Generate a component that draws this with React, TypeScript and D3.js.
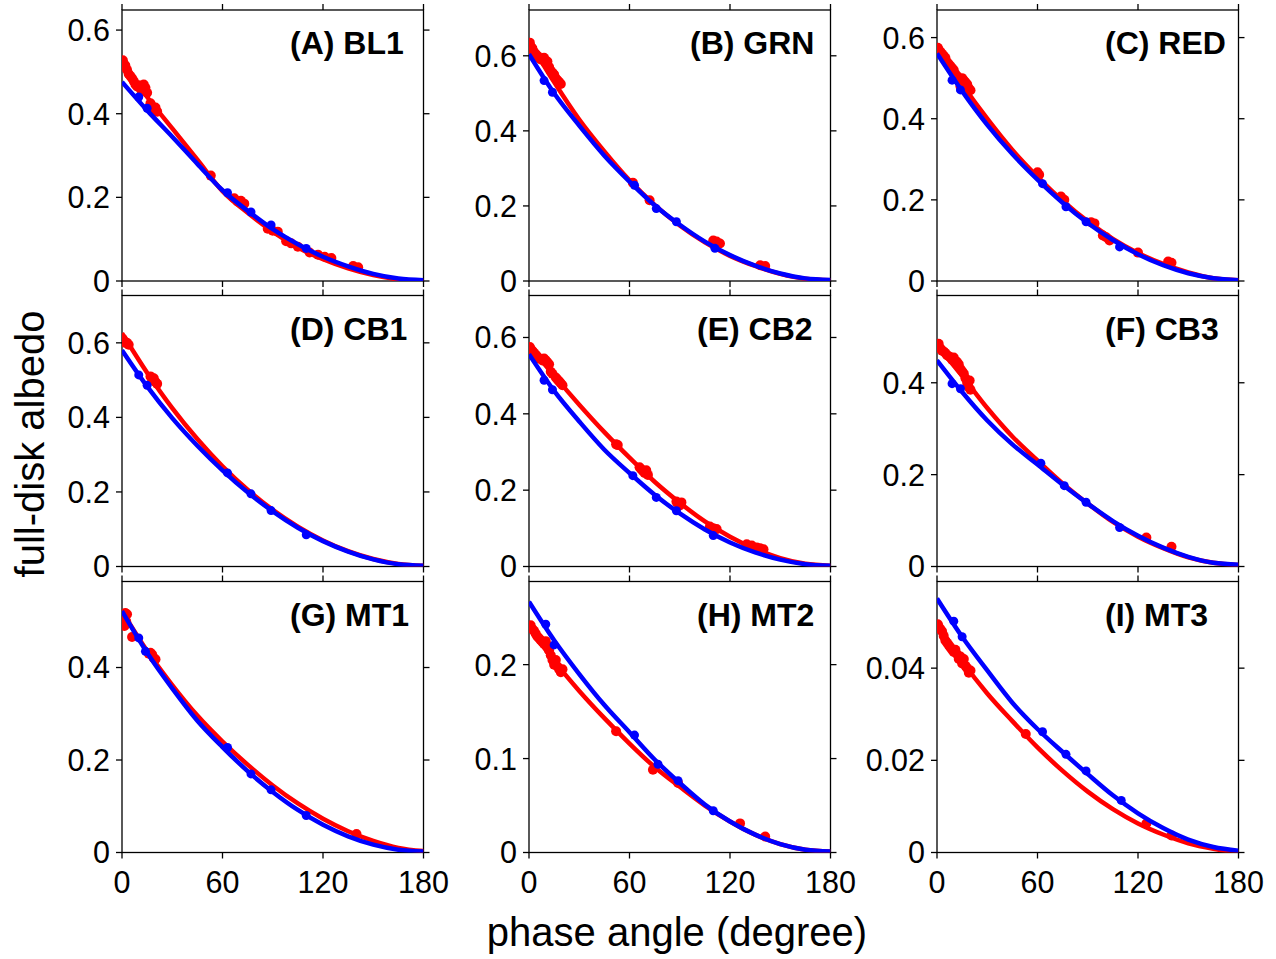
import React from "react";
import * as d3 from "d3";

// ---- data ----
const panelLabels = ["(A) BL1", "(B) GRN", "(C) RED", "(D) CB1", "(E) CB2", "(F) CB3", "(G) MT1", "(H) MT2", "(I) MT3"];
const yMax = [0.648, 0.722, 0.668, 0.727, 0.71, 0.59, 0.586, 0.2885, 0.0588];
const yTicks = [
  [0, 0.2, 0.4, 0.6], [0, 0.2, 0.4, 0.6], [0, 0.2, 0.4, 0.6],
  [0, 0.2, 0.4, 0.6], [0, 0.2, 0.4, 0.6], [0, 0.2, 0.4],
  [0, 0.2, 0.4], [0, 0.1, 0.2], [0, 0.02, 0.04],
];
const yTickLabels = [
  ["0", "0.2", "0.4", "0.6"], ["0", "0.2", "0.4", "0.6"], ["0", "0.2", "0.4", "0.6"],
  ["0", "0.2", "0.4", "0.6"], ["0", "0.2", "0.4", "0.6"], ["0", "0.2", "0.4"],
  ["0", "0.2", "0.4"], ["0", "0.1", "0.2"], ["0", "0.02", "0.04"],
];
const xTicks = [0, 60, 120, 180];
const curveAngles = [0, 15, 30, 45, 60, 75, 90, 105, 120, 135, 150, 165, 180];

const redCurves = [
  [0.525, 0.44, 0.365, 0.29, 0.215, 0.163, 0.118, 0.08, 0.052, 0.03, 0.014, 0.004, 0.0],
  [0.64, 0.53, 0.43, 0.345, 0.268, 0.203, 0.148, 0.103, 0.067, 0.04, 0.019, 0.006, 0.002],
  [0.578, 0.485, 0.4, 0.323, 0.257, 0.198, 0.147, 0.104, 0.069, 0.042, 0.021, 0.007, 0.002],
  [0.626, 0.52, 0.425, 0.342, 0.269, 0.206, 0.152, 0.107, 0.07, 0.041, 0.02, 0.007, 0.002],
  [0.58, 0.5, 0.424, 0.352, 0.285, 0.222, 0.167, 0.118, 0.078, 0.046, 0.022, 0.007, 0.002],
  [0.482, 0.415, 0.345, 0.283, 0.231, 0.181, 0.137, 0.097, 0.065, 0.04, 0.02, 0.008, 0.003],
  [0.522, 0.436, 0.362, 0.296, 0.24, 0.19, 0.145, 0.106, 0.073, 0.046, 0.025, 0.01, 0.003],
  [0.24, 0.204, 0.172, 0.143, 0.116, 0.091, 0.07, 0.05, 0.033, 0.019, 0.009, 0.003, 0.001],
  [0.0495, 0.0415, 0.0345, 0.0285, 0.0228, 0.0177, 0.0132, 0.0094, 0.0063, 0.0039, 0.002, 0.0008, 0.0],
];
const blueCurves = [
  [0.476, 0.408, 0.345, 0.28, 0.217, 0.168, 0.124, 0.088, 0.058, 0.035, 0.017, 0.006, 0.002],
  [0.604, 0.5, 0.414, 0.334, 0.265, 0.202, 0.15, 0.105, 0.069, 0.041, 0.02, 0.007, 0.003],
  [0.561, 0.468, 0.385, 0.313, 0.25, 0.193, 0.143, 0.101, 0.066, 0.039, 0.019, 0.007, 0.002],
  [0.58, 0.483, 0.398, 0.324, 0.258, 0.199, 0.148, 0.104, 0.068, 0.04, 0.019, 0.006, 0.002],
  [0.556, 0.46, 0.38, 0.306, 0.245, 0.188, 0.139, 0.097, 0.063, 0.037, 0.018, 0.006, 0.002],
  [0.449, 0.38, 0.318, 0.266, 0.222, 0.178, 0.137, 0.099, 0.067, 0.041, 0.021, 0.008, 0.004],
  [0.522, 0.432, 0.355, 0.285, 0.228, 0.176, 0.131, 0.092, 0.06, 0.035, 0.017, 0.006, 0.002],
  [0.267, 0.226, 0.19, 0.157, 0.128, 0.099, 0.074, 0.051, 0.033, 0.019, 0.009, 0.003, 0.001],
  [0.0551, 0.0468, 0.0395, 0.0325, 0.0268, 0.0218, 0.017, 0.0124, 0.0085, 0.0053, 0.0028, 0.0012, 0.0004],
];

const redPointsA = [[0.5,0.528],[1,0.52],[2,0.515],[3,0.505],[4,0.495],[5,0.49],[6,0.485],[7,0.478],[8,0.47],[9,0.465],[10,0.468],[11,0.46],[12,0.455],[13,0.47],[14,0.462],[15,0.45],[17,0.425],[18,0.418],[19,0.41],[20,0.415],[21,0.405],[53,0.252],[67,0.198],[69,0.19],[71,0.192],[73,0.185],[87,0.125],[90,0.12],[93,0.118],[98,0.095],[101,0.09],[105,0.082],[112,0.068],[117,0.063],[121,0.058],[125,0.055],[138,0.036],[141,0.033]];
const redPointsB = [[0.5,0.635],[1,0.625],[2,0.62],[3,0.61],[4,0.605],[5,0.6],[6,0.595],[7,0.59],[8,0.59],[9,0.595],[10,0.58],[11,0.585],[12,0.57],[13,0.56],[14,0.555],[15,0.55],[16,0.54],[17,0.535],[18,0.53],[19,0.525],[62,0.262],[72,0.215],[110,0.108],[112,0.105],[114,0.1],[138,0.042],[141,0.04]];
const redPointsC = [[0.5,0.575],[1,0.57],[2,0.565],[3,0.56],[4,0.555],[5,0.55],[6,0.54],[7,0.535],[8,0.53],[9,0.525],[10,0.52],[11,0.51],[12,0.505],[13,0.5],[14,0.48],[15,0.5],[16,0.495],[17,0.49],[18,0.485],[19,0.475],[20,0.47],[60,0.268],[61,0.262],[74,0.208],[76,0.2],[92,0.145],[94,0.142],[99,0.112],[101,0.108],[103,0.1],[120,0.07],[138,0.048],[140,0.045]];
const redPointsD = [[0.5,0.61],[1,0.605],[2,0.6],[3,0.6],[4,0.595],[17,0.51],[18,0.5],[19,0.505],[20,0.495],[21,0.49]];
const redPointsE = [[0.5,0.575],[1,0.57],[2,0.565],[3,0.56],[4,0.555],[5,0.55],[6,0.545],[8,0.54],[9,0.545],[10,0.54],[11,0.535],[12,0.53],[13,0.51],[14,0.505],[16,0.495],[17,0.49],[18,0.485],[19,0.48],[20,0.475],[52,0.32],[53,0.318],[66,0.26],[67,0.255],[68,0.25],[69,0.245],[70,0.252],[71,0.24],[88,0.17],[89,0.165],[90,0.16],[91,0.168],[108,0.105],[110,0.1],[112,0.098],[130,0.058],[133,0.055],[136,0.05],[138,0.048],[140,0.045]];
const redPointsF = [[0.5,0.48],[1,0.485],[2,0.475],[3,0.47],[4,0.468],[5,0.465],[6,0.46],[7,0.458],[8,0.455],[9,0.45],[10,0.455],[11,0.448],[12,0.445],[13,0.44],[14,0.43],[15,0.425],[16,0.42],[17,0.41],[18,0.4],[19,0.39],[20,0.385],[19.5,0.405],[18.5,0.395],[125,0.063],[140,0.043]];
const redPointsG = [[1,0.51],[2,0.518],[3,0.515],[1.5,0.49],[2.5,0.5],[6,0.466],[16,0.43],[17,0.432],[18,0.428],[19,0.42],[20,0.418],[140,0.04]];
const redPointsH = [[0.5,0.24],[1,0.242],[2,0.238],[3,0.236],[4,0.233],[5,0.23],[6,0.228],[7,0.226],[8,0.224],[9,0.222],[10,0.225],[11,0.22],[12,0.215],[13,0.21],[14,0.205],[15,0.2],[16,0.205],[17,0.198],[18,0.195],[19,0.192],[20,0.195],[52,0.129],[74,0.088],[89,0.074],[126,0.031],[141,0.017]];
const redPointsI = [[0.5,0.0495],[1,0.049],[2,0.0485],[3,0.048],[4,0.047],[5,0.046],[6,0.0455],[7,0.045],[8,0.0445],[9,0.044],[10,0.0435],[11,0.044],[12,0.043],[13,0.042],[14,0.0425],[15,0.041],[16,0.042],[17,0.0405],[18,0.04],[19,0.039],[20,0.0395],[53,0.0257],[125,0.0063],[140,0.0037]];
const redPoints = [redPointsA, redPointsB, redPointsC, redPointsD, redPointsE, redPointsF, redPointsG, redPointsH, redPointsI];

const bluePoints = [
  [[10,0.44],[15,0.413],[63,0.211],[77,0.165],[89,0.134],[110,0.078]],
  [[9,0.534],[14,0.503],[63,0.255],[76,0.193],[88,0.158],[111,0.087]],
  [[9,0.495],[14,0.471],[63,0.24],[77,0.183],[89,0.146],[109,0.084]],
  [[10,0.514],[15,0.486],[63,0.251],[77,0.195],[89,0.15],[110,0.085]],
  [[9,0.488],[14,0.463],[62,0.238],[76,0.181],[88,0.146],[110,0.081]],
  [[9,0.398],[14,0.387],[62,0.225],[76,0.176],[89,0.14],[109,0.085]],
  [[10,0.464],[14,0.435],[63,0.227],[77,0.17],[89,0.1355],[110,0.08]],
  [[10,0.243],[15,0.221],[63,0.125],[77,0.094],[89,0.0765],[110,0.0445]],
  [[10,0.0502],[15,0.0468],[63,0.0262],[77,0.0213],[89,0.0177],[110,0.0113]],
];

// ---- layout ----
const W = 1276, H = 959;
const colLeft = [122, 529, 937];
const rowTop = [10, 295.5, 581.5];
const PW = 301.5, PH = 271;
const RED = "#ff0000", BLUE = "#0000ff";
const FONT = "'Liberation Sans', Arial, Helvetica, sans-serif";
const labelOffsets = [168, 161, 168, 168, 168, 168, 168, 168, 168];

function Panel({ i }: { i: number }) {
  const col = i % 3, row = Math.floor(i / 3);
  const x0 = colLeft[col], y0 = rowTop[row];
  const x = d3.scaleLinear().domain([0, 180]).range([0, PW]);
  const y = d3.scaleLinear().domain([0, yMax[i]]).range([PH, 0]);
  const line = d3.line<number>()
    .x((_, k) => x(curveAngles[k]))
    .y((v) => y(v))
    .curve(d3.curveMonotoneX);
  const tk = 6;
  return (
    <g transform={`translate(${x0},${y0})`}>
      <defs>
        <clipPath id={`clip${i}`}><rect x={0} y={0} width={PW} height={PH} /></clipPath>
      </defs>
      <rect x={0} y={0} width={PW} height={PH} fill="white" stroke="black" strokeWidth={1.3} />
      {xTicks.map((t) => (
        <g key={"xt" + t}>
          <line x1={x(t)} x2={x(t)} y1={0} y2={-tk} stroke="black" strokeWidth={1.3} />
          <line x1={x(t)} x2={x(t)} y1={PH} y2={PH + tk} stroke="black" strokeWidth={1.3} />
          {row === 2 && (
            <text x={x(t)} y={PH + 40} textAnchor="middle" fontSize={30.5} fontFamily={FONT}>{t}</text>
          )}
        </g>
      ))}
      {yTicks[i].map((t, k) => (
        <g key={"yt" + k}>
          <line x1={0} x2={-tk} y1={y(t)} y2={y(t)} stroke="black" strokeWidth={1.3} />
          <line x1={PW} x2={PW + tk} y1={y(t)} y2={y(t)} stroke="black" strokeWidth={1.3} />
          <text x={-12} y={y(t)} dy="0.36em" textAnchor="end" fontSize={30.5} fontFamily={FONT}>{yTickLabels[i][k]}</text>
        </g>
      ))}
      <g clipPath={`url(#clip${i})`}>
        {redPoints[i].map((p, k) => (
          <circle key={"r" + k} cx={x(p[0])} cy={y(p[1])} r={5} fill={RED} />
        ))}
        <path d={line(redCurves[i]) || ""} fill="none" stroke={RED} strokeWidth={4.5} />
        <path d={line(blueCurves[i]) || ""} fill="none" stroke={BLUE} strokeWidth={4.5} />
        {bluePoints[i].map((p, k) => (
          <circle key={"b" + k} cx={x(p[0])} cy={y(p[1])} r={4.5} fill={BLUE} />
        ))}
      </g>
      <text x={labelOffsets[i]} y={44} fontSize={32} fontWeight="bold" fontFamily={FONT}>{panelLabels[i]}</text>
    </g>
  );
}

export default function App() {
  return (
    <svg width={W} height={H} style={{ position: "absolute", left: 0, top: 0, background: "white" }}>
      <rect x={0} y={0} width={W} height={H} fill="white" />
      {panelLabels.map((_, i) => <Panel key={i} i={i} />)}
      <text x={677} y={946} textAnchor="middle" fontSize={40} fontFamily={FONT}>phase angle (degree)</text>
      <text transform="translate(44,444) rotate(-90)" textAnchor="middle" fontSize={40} fontFamily={FONT}>full-disk albedo</text>
    </svg>
  );
}
